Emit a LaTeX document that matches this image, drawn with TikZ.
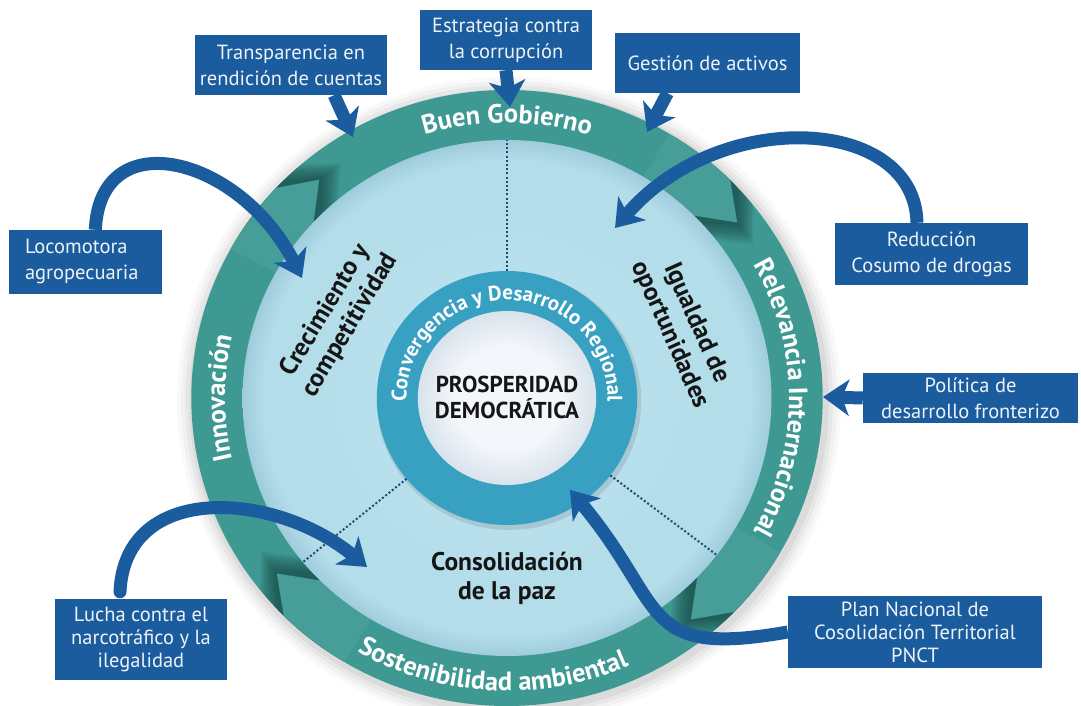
\documentclass[tikz,border=0pt]{standalone}
\usepackage{fontspec}
\setmainfont{PT Sans}
\usetikzlibrary{arrows.meta,decorations.text,calc}
\definecolor{bandc}{HTML}{3F9993}
\definecolor{bandshadow}{HTML}{0F3735}
\definecolor{diskc}{HTML}{B4DDEA}
\definecolor{disklight}{HTML}{C2E4F0}
\definecolor{diskedge}{HTML}{9FCCDC}
\definecolor{innerring}{HTML}{38A1C2}
\definecolor{centerw}{HTML}{F3F6FA}
\definecolor{centeredge}{HTML}{D9E3EC}
\definecolor{boxblue}{HTML}{1B5C9E}
\definecolor{dotc}{HTML}{1F4A72}
\definecolor{labelc}{HTML}{151515}
\pgfdeclareradialshading{diskshade}{\pgfpoint{0bp}{0bp}}{color(0bp)=(disklight); color(18bp)=(diskc); color(23bp)=(diskc); color(25bp)=(diskedge); color(50bp)=(diskedge)}
\pgfdeclareradialshading{centershade}{\pgfpoint{0bp}{0bp}}{color(0bp)=(centerw); color(15bp)=(centerw); color(25bp)=(centeredge); color(50bp)=(centeredge)}
\newcommand\Ro{308}
\newcommand\Ri{258}
\newcommand\Rm{285}
\tikzset{
  boxn/.style={fill=boxblue, text=white!92!boxblue, font=\fontsize{20.5}{26}\selectfont, align=center, inner sep=0pt},
  boxthree/.style={font=\fontsize{20.5}{23}\selectfont},
  blarrow/.style={draw=boxblue, line width=13pt, -{Stealth[length=26pt,width=36pt,inset=7pt]}},
  seglabel/.style={text=labelc, font=\fontsize{25.5}{29}\selectfont\bfseries, align=center, inner sep=0pt},
  centerlabel/.style={text=labelc, font=\fontsize{23}{26}\selectfont\bfseries, align=center, inner sep=0pt},
  ringtext/.style={decorate, decoration={text along path, text align=center, text color=white, text={|\fontsize{26.5}{26.5}\selectfont\bfseries|#1}}},
  innertext/.style={decorate, decoration={text along path, text align=center, text color=white, text={|\fontsize{21}{21}\selectfont\bfseries|#1}}},
  dotline/.style={draw=dotc, line width=2pt, dash pattern=on 2pt off 2.2pt},
}
\begin{document}
\begin{tikzpicture}[x=1pt,y=1pt]
\useasboundingbox (0,0) rectangle (1081,706);
\fill[white] (0,0) rectangle (1081,706);
\begin{scope}[shift={(507,308)}, xscale=1.025]
  \foreach \k/\o in {16/0.025,12/0.03,8/0.04,4/0.05} {\fill[black,opacity=\o] (2,-3) circle[radius=\Ro+\k];}
  \fill[bandc] (0,0) circle[radius=\Ro];
  \begin{scope}
    \clip (0,0) circle[radius=\Ro];
    \foreach \b in {45,-44,-135,137} {
      \foreach \r in {0.6,1.2,...,5.4} {
        \fill[bandshadow,opacity=0.09,rotate=-\r] (\b+14:\Ro+5) arc[start angle=\b+14, end angle=\b, radius=\Ro+5] -- (\b-7:\Rm) -- (\b:\Ri-8) arc[start angle=\b, end angle=\b+14, radius=\Ri-8] -- cycle;
      }
    }
  \end{scope}
  \foreach \b in {45,-44,-135,137} {
    \fill[bandc!96!white] (\b+14:\Ro) arc[start angle=\b+14, end angle=\b, radius=\Ro] -- (\b-7:\Rm) -- (\b:\Ri) arc[start angle=\b, end angle=\b+14, radius=\Ri] -- cycle;
  }
  \shade[shading=diskshade] (0,0) circle[radius=\Ri];
  \draw[dotline] (90:127) -- (90:\Ri);
  \draw[dotline] (219.5:127) -- (219.5:\Ri);
  \draw[dotline] (-37.5:127) -- (-37.5:\Ri);
  \fill[black,opacity=.1] (2,-3) circle[radius=129];
  \fill[innerring] (0,0) circle[radius=127];
  \shade[shading=centershade] (0,0) circle[radius=87];
\end{scope}
\begin{scope}[shift={(507,308)}]
  \path[ringtext={Buen Gobierno}] (125:282 and 275) arc[start angle=125, end angle=55, x radius=282, y radius=275];
  \path[ringtext={Relevancia Internacional}] (45:282 and 275) arc[start angle=45, end angle=-45, x radius=282, y radius=275];
  \path[ringtext={Sostenibilidad ambiental}] (-140:300 and 293) arc[start angle=-140, end angle=-46, x radius=300, y radius=293];
  \path[ringtext={Innovación}] (215:282 and 275) arc[start angle=215, end angle=145, x radius=282, y radius=275];
  \path[innertext={Convergencia y Desarrollo Regional}] (228:100.5 and 98) arc[start angle=228, end angle=-48, x radius=100.5, y radius=98];
\end{scope}
\node[seglabel, rotate=59] (crec) at (338,388) {Crecimiento y\\competitividad};
\node[seglabel, rotate=-66] (igual) at (683,377) {Igualdad de\\oportunidades};
\node[seglabel] (consol) at (507,128) {Consolidación\\de la paz};
\node[centerlabel] (prosp) at (507,308.5) {PROSPERIDAD\\DEMOCRÁTICA};
% boxes
\node[boxn, minimum width=192pt, minimum height=60pt] (trans) at (291,641) {Transparencia en\\rendición de cuentas};
\node[boxn, minimum width=172pt, minimum height=60pt] (estr) at (506,666) {Estrategia contra\\la corrupción};
\node[boxn, minimum width=185pt, minimum height=60pt] (gest) at (707.5,643) {Gestión de activos};
\node[boxn, text width=121pt, align=left, inner xsep=16pt, minimum height=64pt] (loco) at (85.5,444) {Locomotora\\agropecuaria};
\node[boxn, minimum width=193pt, minimum height=62pt] (reduc) at (931.5,452) {Reducción\\Cosumo de drogas};
\node[boxn, minimum width=215pt, minimum height=50pt] (polit) at (970.5,308) {Política de\\desarrollo fronterizo};
\node[boxn, boxthree, minimum width=172pt, minimum height=81pt] (lucha) at (141,66.5) {Lucha contra el\\narcotráfico y la\\ilegalidad};
\node[boxn, boxthree, minimum width=254pt, minimum height=72pt] (plan) at (915,74) {Plan Nacional de\\Cosolidación Territorial\\PNCT};
% arrow tips
\coordinate (tA) at (353,569);
\coordinate (tB) at (510,599);
\coordinate (tC) at (647,574);
\coordinate (tD) at (302,428);
\coordinate (tE) at (615,478);
\coordinate (tF) at (823,309);
\coordinate (tG) at (367,139);
\coordinate (tH) at (570,216);
\draw[blarrow] (trans.-35) -- (tA);
\draw[blarrow] (estr.south) -- (tB);
\draw[blarrow] (gest.217) -- (tC);
\draw[blarrow] (loco.73) .. controls (100,585) and (240,550) .. (tD);
\draw[blarrow] (reduc.115) .. controls (915,590) and (720,600) .. (tE);
\draw[blarrow] (polit.west) -- (tF);
\draw[blarrow, line cap=round] ($(lucha.north)+(-21,7)$) .. controls (125,225) and (275,215) .. (tG);
\draw[blarrow] (plan.west) to[out=190, in=-50, looseness=1.5] (tH);
\end{tikzpicture}
\end{document}
